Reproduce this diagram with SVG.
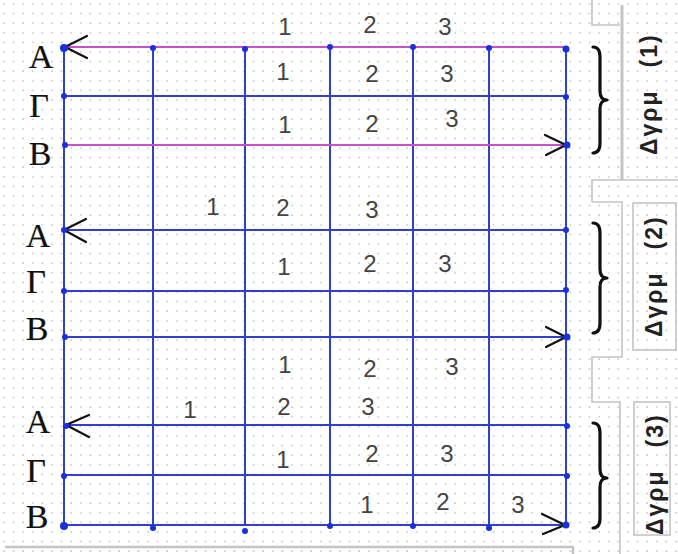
<svg xmlns="http://www.w3.org/2000/svg" width="678" height="554" viewBox="0 0 678 554">
<defs>
<pattern id="dots" width="9.6" height="9.6" patternUnits="userSpaceOnUse"><circle cx="4" cy="4" r="0.9" fill="#c2c2c2"/></pattern>
<style>
.bl{stroke:#3040cc;stroke-width:2;fill:none}
.pk{stroke:#c850c8;stroke-width:2.2;fill:none}
.ar{stroke:#111;stroke-width:2.2;fill:none;stroke-linecap:round;stroke-linejoin:round}
.br{stroke:#111;stroke-width:3.2;fill:none;stroke-linecap:round;stroke-linejoin:round}
.pn{stroke:#c4c4c4;stroke-width:1.6;fill:none}
.pt{fill:#1a2fe0}
.n{font-family:"Liberation Sans",Arial,sans-serif;font-size:24px;fill:#444;text-anchor:middle}
.l{font-family:"Liberation Serif","Times New Roman",serif;font-size:34px;fill:#111;stroke:#111;stroke-width:0.2;text-anchor:middle}
.g{font-family:"Liberation Sans",Arial,sans-serif;font-size:23px;font-weight:bold;fill:#222;letter-spacing:2px}
</style>
</defs>
<rect width="678" height="554" fill="#fff"/>
<rect width="678" height="554" fill="url(#dots)"/>
<g id="panels">
<path class="pn" d="M592,0 V25 H620"/>
<path class="pn" d="M622,5 V180" style="stroke-width:3"/>
<path class="pn" d="M592,202 V180 H678"/>
<path class="pn" d="M592,202 H622 V357 H592 V402 H620 V554"/>
<rect class="pn" x="633" y="203" width="43" height="147"/>
<rect class="pn" x="634" y="402" width="36" height="133"/>
<path class="pn" d="M5,547 H573 V554" style="stroke-width:2.4"/>
</g>
<g id="connectors">
<line class="bl" x1="64" y1="47" x2="64" y2="525"/>
<line class="bl" x1="153" y1="47" x2="153" y2="525"/>
<line class="bl" x1="245" y1="47" x2="245" y2="525"/>
<line class="bl" x1="330" y1="47" x2="330" y2="525"/>
<line class="bl" x1="413" y1="47" x2="413" y2="525"/>
<line class="bl" x1="489" y1="47" x2="489" y2="525"/>
<line class="bl" x1="566" y1="47" x2="566" y2="525"/>
<line class="pk" x1="64" y1="47" x2="566" y2="47"/>
<line class="bl" x1="64" y1="96" x2="566" y2="96"/>
<line class="pk" x1="64" y1="145" x2="566" y2="145"/>
<line class="bl" x1="64" y1="230" x2="566" y2="230"/>
<line class="bl" x1="64" y1="291" x2="566" y2="291"/>
<line class="bl" x1="64" y1="337" x2="566" y2="337"/>
<line class="bl" x1="64" y1="425" x2="566" y2="425"/>
<line class="bl" x1="64" y1="475" x2="566" y2="475"/>
<line class="bl" x1="64" y1="525" x2="566" y2="525"/>
<path class="ar" d="M87,36 L65,47 L87,58"/>
<path class="ar" d="M86,219 L64,230 L86,242"/>
<path class="ar" d="M89,415 L66,425 L89,437"/>
<path class="ar" d="M545,135 L566,145 L546,155"/>
<path class="ar" d="M546,327 L566,337 L546,347"/>
<path class="ar" d="M542,514 L565,525 L543,534"/>
</g>
<g id="points">
<circle class="pt" cx="64" cy="48" r="4"/><circle class="pt" cx="153" cy="48" r="3"/><circle class="pt" cx="245" cy="49" r="3"/><circle class="pt" cx="330" cy="47" r="3"/><circle class="pt" cx="413" cy="47" r="3"/><circle class="pt" cx="489" cy="48" r="3"/><circle class="pt" cx="566" cy="49" r="3.5"/>
<circle class="pt" cx="64" cy="96" r="3"/><circle class="pt" cx="566" cy="97" r="3"/>
<circle class="pt" cx="65" cy="145" r="3"/><circle class="pt" cx="567" cy="145" r="3.5"/>
<circle class="pt" cx="64" cy="230" r="3"/><circle class="pt" cx="566" cy="230" r="3"/>
<circle class="pt" cx="64" cy="291" r="3"/><circle class="pt" cx="566" cy="290" r="3"/>
<circle class="pt" cx="65" cy="337" r="3"/><circle class="pt" cx="567" cy="337" r="3.5"/>
<circle class="pt" cx="66" cy="426" r="3"/><circle class="pt" cx="567" cy="426" r="3"/>
<circle class="pt" cx="64" cy="476" r="3"/><circle class="pt" cx="567" cy="476" r="3"/>
<circle class="pt" cx="64" cy="526" r="4"/><circle class="pt" cx="153" cy="528" r="3"/><circle class="pt" cx="245" cy="531" r="3"/><circle class="pt" cx="330" cy="526" r="3"/><circle class="pt" cx="413" cy="526" r="3"/><circle class="pt" cx="489" cy="528" r="3"/><circle class="pt" cx="566" cy="525" r="3.5"/>
</g>
<g id="rowlabels">
<text class="l" x="41" y="68">A</text><text class="l" x="39" y="117">Γ</text><text class="l" x="40" y="165">B</text>
<text class="l" x="38" y="247">A</text><text class="l" x="36" y="293">Γ</text><text class="l" x="37" y="340">B</text>
<text class="l" x="38" y="433">A</text><text class="l" x="36" y="482">Γ</text><text class="l" x="37" y="528">B</text>
</g>
<g id="numbers">
<text class="n" x="285" y="35">1</text><text class="n" x="370" y="33">2</text><text class="n" x="445" y="35">3</text>
<text class="n" x="283" y="80">1</text><text class="n" x="372" y="82">2</text><text class="n" x="447" y="82">3</text>
<text class="n" x="285" y="133">1</text><text class="n" x="372" y="132">2</text><text class="n" x="452" y="127">3</text>
<text class="n" x="213" y="215">1</text><text class="n" x="283" y="216">2</text><text class="n" x="372" y="218">3</text>
<text class="n" x="284" y="275">1</text><text class="n" x="370" y="272">2</text><text class="n" x="445" y="272">3</text>
<text class="n" x="285" y="373">1</text><text class="n" x="370" y="377">2</text><text class="n" x="452" y="375">3</text>
<text class="n" x="190" y="418">1</text><text class="n" x="284" y="415">2</text><text class="n" x="368" y="415">3</text>
<text class="n" x="283" y="468">1</text><text class="n" x="372" y="462">2</text><text class="n" x="447" y="462">3</text>
<text class="n" x="367" y="513">1</text><text class="n" x="443" y="510">2</text><text class="n" x="518" y="513">3</text>
</g>
<g id="braces">
<path class="br" d="M593,47 Q600,47 600,57 L600,91 Q600,100 607,100 Q600,100 600,109 L600,143 Q600,153 593,153"/>
<path class="br" d="M593,223 Q600,223 600,233 L600,269 Q600,278 607,278 Q600,278 600,287 L600,323 Q600,333 593,333"/>
<path class="br" d="M593,423 Q600,423 600,433 L600,469 Q600,478 607,478 Q600,478 600,487 L600,518 Q600,528 593,528"/>
</g>
<g id="grouplabels">
<text class="g" transform="translate(657,155) rotate(-90)">Δγρμ<tspan dx="22">(1)</tspan></text>
<text class="g" transform="translate(662,337) rotate(-90)">Δγρμ<tspan dx="22">(2)</tspan></text>
<text class="g" transform="translate(663,535) rotate(-90)">Δγρμ<tspan dx="22">(3)</tspan></text>
</g>
</svg>
